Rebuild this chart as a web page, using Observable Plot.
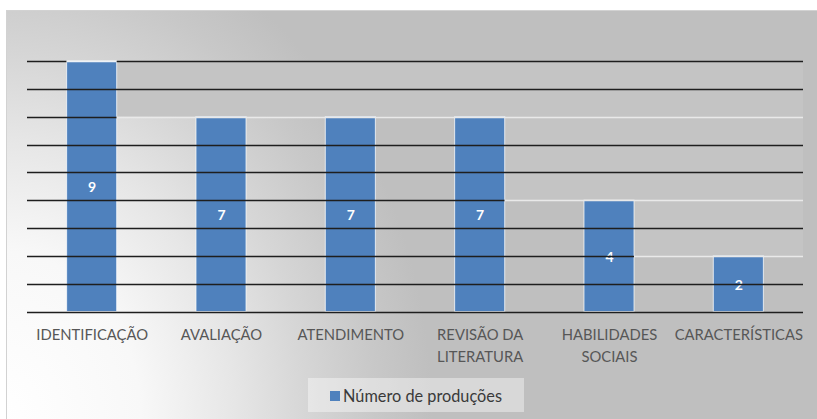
<!DOCTYPE html>
<html><head><meta charset="utf-8">
<script src="https://cdn.jsdelivr.net/npm/d3@7"></script>
<script src="https://cdn.jsdelivr.net/npm/@observablehq/plot@0.6"></script>
<style>
html,body{margin:0;padding:0;background:#fff;overflow:hidden;width:817px;height:419px;position:relative}
#frame{position:absolute;left:6px;top:10px;width:830px;height:430px;border:1px solid #d2d2d2;
background:radial-gradient(470px 560px at -7px 408px,#ffffff 0%,#f8f8f8 30%,#e6e6e6 50%,#d6d6d6 65%,#c8c8c8 80%,#bfbfbf 92%);}
#chart{position:absolute;left:0;top:0}
#legend{position:absolute;left:301px;top:367px;width:216px;height:34px;background:rgba(255,255,255,0.4);
display:flex;align-items:center;justify-content:center;font-family:Lato,"Open Sans",sans-serif;font-size:16.3px;color:#3a3a3a}
#legend .sw{display:inline-block;width:10px;height:10px;background:#4f81bd;margin-right:3px;margin-top:1px}
</style></head>
<body>
<div id="frame"><div id="chart"></div>
<div id="legend"><span class="sw"></span><span id="legtext"></span></div></div>
<script>
const categories = ["IDENTIFICAÇÃO","AVALIAÇÃO","ATENDIMENTO","REVISÃO DA LITERATURA","HABILIDADES SOCIAIS","CARACTERÍSTICAS"];
const tickLabels = ["IDENTIFICAÇÃO","AVALIAÇÃO","ATENDIMENTO","REVISÃO DA\nLITERATURA","HABILIDADES\nSOCIAIS","CARACTERÍSTICAS"];
const counts = [9,7,7,7,4,2];
const gridLevels = [0,1,2,3,4,5,6,7,8,9];
const seriesName = "Número de produções";

document.getElementById("legtext").textContent = seriesName;
const data = categories.map((c,i)=>({cat:c, n:counts[i]}));
const FONT = "Lato, 'Open Sans', sans-serif";

function barGeom(x){
  const bw = typeof x.bandwidth === "function" ? x.bandwidth() : 50;
  return {bw};
}
function lastTaller(L){
  let j = -1;
  counts.forEach((v,i)=>{ if (v > L) j = i; });
  return j;
}
// flat-gray stair region (background artifact) drawn under bars
function stairMark(index, scales, values, dims){
  const {x, y} = scales, {bw} = barGeom(x);
  const right = dims.width - dims.marginRight;
  const g = d3.create("svg:g");
  const maxV = d3.max(counts);
  for (const L of gridLevels){
    if (L === maxV || !counts.includes(L)) continue;
    const j = lastTaller(L); if (j < 0) continue;
    const xe = x(categories[j]) + bw;
    g.append("rect").attr("x", xe).attr("y", y(maxV)).attr("width", right - xe)
      .attr("height", y(L) - y(maxV)).attr("fill", "#c4c4c4");
  }
  return g.node();
}
// gridlines drawn over bars
function gridMark(index, scales, values, dims){
  const {x, y} = scales, {bw} = barGeom(x);
  const left = dims.marginLeft, right = dims.width - dims.marginRight;
  const g = d3.create("svg:g");
  const maxV = d3.max(counts);
  const seg = (x1,x2,yy,col,w)=>g.append("line").attr("x1",x1).attr("x2",x2).attr("y1",yy).attr("y2",yy)
      .attr("stroke",col).attr("stroke-width",w);
  for (const L of gridLevels){
    const yy = Math.round(y(L)) + 0.5;
    if (L === maxV){
      let xs = left;
      counts.forEach((v,i)=>{ if (v === L){ const b = x(categories[i]); seg(xs,b,yy,"#1e1e1e",1.3); seg(b,b+bw,yy,"#eef2f7",1.5); xs = b+bw; } });
      seg(xs,right,yy,"#1e1e1e",1.3);
    } else if (counts.includes(L) && lastTaller(L) >= 0){
      const xe = x(categories[lastTaller(L)]) + bw;
      seg(left,xe,yy,"#1e1e1e",1.3);
      seg(xe,right,yy,"#e9e9e9",1.6);
    } else {
      seg(left,right,yy,"#1e1e1e",1.3);
    }
  }
  return g.node();
}

const plot = Plot.plot({
  width: 810, height: 360,
  marginLeft: 20, marginRight: 14, marginTop: 50, marginBottom: 59.5,
  style: {background: "transparent", fontFamily: FONT, overflow: "visible"},
  x: {domain: categories, paddingInner: 0.613, paddingOuter: 0.3065, round: false, label: null},
  y: {domain: [0, 9], axis: null},
  marks: [
    stairMark,
    Plot.barY(data, {x: "cat", y: "n", fill: "#4f81bd", stroke: "#ffffff", strokeOpacity: 0.75, strokeWidth: 1}),
    Plot.text(data, {x: "cat", y: d => d.n / 2, text: d => String(d.n), fill: "#ffffff", fontWeight: "bold", fontSize: 14, dy: 1}),
    gridMark,
    Plot.axisX({tickSize: 0, tickPadding: 12, fontSize: 14.8, fill: "#575757", lineHeight: 1.5,
      tickFormat: c => tickLabels[categories.indexOf(c)], label: null})
  ]
});
document.getElementById("chart").appendChild(plot);
</script>
</body></html>
